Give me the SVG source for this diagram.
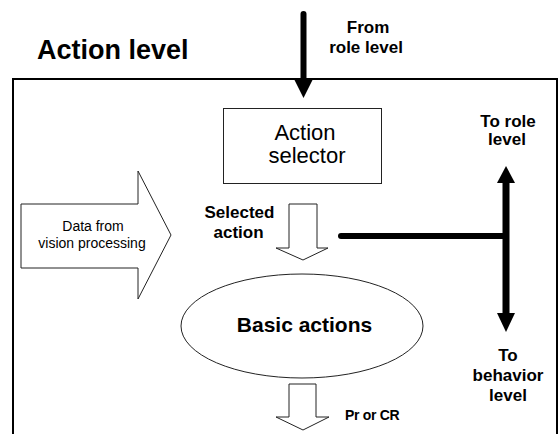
<svg xmlns="http://www.w3.org/2000/svg" width="559" height="434" viewBox="0 0 559 434">
  <style>
    .bold { font-family: "Liberation Sans", Arial, sans-serif; font-weight: bold; fill: #000; }
    .reg { font-family: "Liberation Sans", Arial, sans-serif; fill: #000; }
    .lbl { font-size: 17px; text-anchor: middle; }
    .thin { fill: #fff; stroke: #222; stroke-width: 1; }
    .thick { stroke: #000; fill: none; stroke-linecap: round; }
    .head { fill: #000; stroke: none; }
  </style>
  <rect width="559" height="434" fill="#fff"/>

  <g id="action-level">
    <rect x="13" y="79" width="544" height="370" fill="none" stroke="#000" stroke-width="2"/>
    <text class="bold" x="37" y="59" font-size="27">Action level</text>
  </g>

  <g id="action-selector">
    <rect class="thin" x="223.5" y="108.5" width="158" height="75"/>
    <text class="reg" x="305" y="140" font-size="22" text-anchor="middle">Action</text>
    <text class="reg" x="307" y="163" font-size="22" text-anchor="middle">selector</text>
  </g>

  <g id="vision-data">
    <polygon class="thin" points="21,204 138,204 138,171 171,235 138,299 138,268 21,268"/>
    <text class="reg" x="93" y="231" font-size="14" text-anchor="middle" fill="#222">Data from</text>
    <text class="reg" x="92" y="248" font-size="14" text-anchor="middle" fill="#222">vision processing</text>
  </g>

  <g id="basic-actions">
    <ellipse class="thin" cx="302" cy="326" rx="121" ry="52" stroke="#444"/>
    <text class="bold" x="304.5" y="332" font-size="21" text-anchor="middle">Basic actions</text>
  </g>

  <g id="connectors">
    <!-- from role level -->
    <line class="thick" x1="303.5" y1="14" x2="303.5" y2="80" stroke-width="6"/>
    <polygon class="head" points="294,79 313,79 303.5,98"/>
    <!-- selected action hollow arrow -->
    <polygon class="thin" points="289,204 317,204 317,248 328,248 303,260 276,248 289,248"/>
    <!-- Pr or CR hollow arrow -->
    <polygon class="thin" points="289,384 316,384 316,417 329,417 303,430 276,417 289,417"/>
    <!-- branch to role / behavior level -->
    <line class="thick" x1="341" y1="236" x2="506" y2="236" stroke-width="6"/>
    <line x1="506" y1="182" x2="506" y2="314" stroke="#000" stroke-width="7"/>
    <polygon class="head" points="497,183 515,183 506,166"/>
    <polygon class="head" points="497,313 515,313 506,332"/>
  </g>

  <g id="labels">
    <text class="bold lbl" x="368" y="33">From</text>
    <text class="bold lbl" x="366" y="53">role level</text>
    <text class="bold lbl" x="508" y="127">To role</text>
    <text class="bold lbl" x="507" y="145">level</text>
    <text class="bold lbl" x="239.5" y="218">Selected</text>
    <text class="bold lbl" x="238.5" y="238">action</text>
    <text class="bold lbl" x="508" y="361">To</text>
    <text class="bold lbl" x="508" y="381">behavior</text>
    <text class="bold lbl" x="508" y="401">level</text>
    <text class="bold" x="345" y="420" font-size="14" letter-spacing="-0.3">Pr or CR</text>
  </g>
</svg>
